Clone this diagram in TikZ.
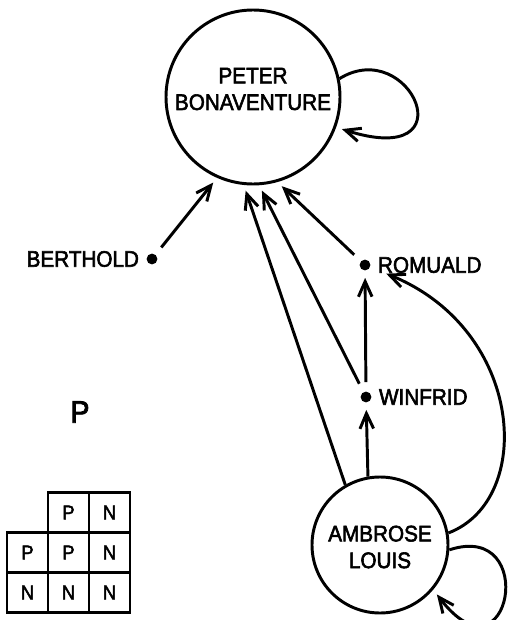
\documentclass[tikz,border=0pt]{standalone}
\usepackage{fontspec}
\setmainfont{Liberation Sans}
\newfontfamily\namefont[FakeStretch=0.92,FakeBold=2.5]{Liberation Sans}
\usetikzlibrary{arrows.meta}
\tikzset{
  person/.style={circle,draw,line width=2.1pt},
  nametext/.style={align=center,font=\namefont\fontsize{16}{19}\selectfont},
  dot/.style={circle,fill,inner sep=0pt,minimum size=2.7mm,label distance=1.5mm},
  cell/.style={draw,line width=2.1pt,minimum width=10.25mm,minimum height=10mm,font=\namefont\fontsize{14}{16}\selectfont},
}
\begin{document}
\begin{tikzpicture}[x=0.25mm,y=-0.25mm,line width=2.1pt,
    >={Straight Barb[length=3.8mm,width=3.4mm]},
    every label/.style={nametext}]
      \useasboundingbox (0,0) rectangle (509,620);
      \draw
        (253,97) node[person,minimum size=43.5mm,label={[yshift=2mm]center:PETER\\BONAVENTURE}] (peter){}
        (380,545) node[person,minimum size=34mm,label={[yshift=-0.5mm]center:AMBROSE\\LOUIS}] (ambrose){}
        (152,259) node[dot,label=left:BERTHOLD] (berthold){}
        (365,265) node[dot,label=right:ROMUALD] (romuald){}
        (366,397) node[dot,label={[label distance=0pt]right:WINFRID}] (winfrid){}
        (80,412) node[nametext,font=\namefont\fontsize{22}{24}\selectfont] (p){P};
      \begin{scope}[->,shorten >=1.5mm]
        \draw[shorten <=2mm] (berthold) to (peter.-114);
        \draw[shorten <=2mm] (romuald) to (peter.-74);
        \draw[shorten <=2mm] (winfrid) to (peter.-86);
        \draw (ambrose.120) to (peter.-96);
        \draw[shorten <=2mm] (winfrid) to (romuald);
        \draw (ambrose.100) to (winfrid);
        \draw[shorten >=4mm] (ambrose.10) .. controls (535,500) and (525,330) .. (romuald);
        \draw (peter.12) .. controls (410,35) and (470,170) .. (peter.-20);
        \draw (ambrose.-4) .. controls (540,520) and (510,690) .. (ambrose.-40);
      \end{scope}
      \foreach \row/\col/\txt in {0/1/P,0/2/N,1/0/P,1/1/P,1/2/N,2/0/N,2/1/N,2/2/N}
        \node[cell] (cell\row\col) at (27.5+41*\col,512.5+40*\row) {\txt};
    \end{tikzpicture}
\end{document}
